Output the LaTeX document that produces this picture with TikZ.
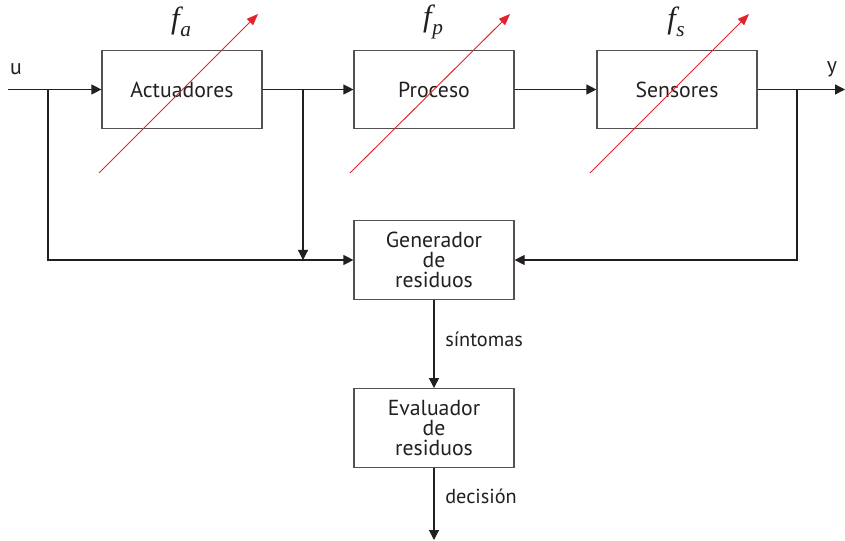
\documentclass[tikz,border=0pt]{standalone}
\usepackage{fontspec}
\setmainfont{PT Sans}
\newfontfamily\tms{Liberation Serif}
\usetikzlibrary{arrows.meta}
\definecolor{lin}{HTML}{231F20}
\definecolor{brd}{HTML}{555152}
\definecolor{fred}{HTML}{E3222B}
\newcommand{\flab}[1]{{\tms\itshape f\kern0.5pt\raisebox{-0.28em}{\fontsize{16}{16}\selectfont #1}}}
\begin{document}
\begin{tikzpicture}[x=0.75pt,y=-0.75pt,
  blk/.style={draw=brd,line width=0.9pt,minimum width=120pt,minimum height=59pt,inner sep=0pt,align=center,font=\fontsize{16.3}{15}\selectfont,text=lin},
  arr/.style={draw=lin,line width=0.9pt,-{Triangle[length=7.5pt,width=7.5pt]}},
  flt/.style={draw=fred,line width=0.7pt,-{Triangle[length=8.5pt,width=6.5pt]}},
  lbl/.style={font=\fontsize{15.2}{16}\selectfont,text=lin,inner sep=0pt},
  flbl/.style={font=\fontsize{23}{24}\selectfont,text=lin,inner sep=0pt}]
\useasboundingbox (0,0) rectangle (845,541);
% blocks
\node[blk] (act) at (182,89.5) {Actuadores};
\node[blk] (proc) at (434,89.5) {Proceso};
\node[blk] (sens) at (677,89.5) {Sensores};
\node[blk] (gen) at (434,260) {Generador\\de\\residuos};
\node[blk] (eval) at (434,428) {Evaluador\\de\\residuos};
% coordinates
\coordinate (uin) at (8,89.5);
\coordinate (yout) at (845,89.5);
\coordinate (j1) at (48,89.5);
\coordinate (j2) at (303,89.5);
\coordinate (j2b) at (303,260);
\coordinate (j3) at (797,89.5);
\coordinate (dout) at (434,540);
% connectors
\draw[arr] (uin) -- (act);
\draw[arr] (act) -- (proc);
\draw[arr] (proc) -- (sens);
\draw[arr] (sens) -- (yout);
\draw[arr] (j1) |- (gen.west);
\draw[arr] (j2) -- (j2b);
\draw[arr] (j3) |- (gen.east);
\draw[arr] (gen) -- node[lbl,right=8pt,pos=0.45] {síntomas} (eval);
\draw[arr] (eval) -- node[lbl,right=8pt,pos=0.4] {decisión} (dout);
% labels
\node[font=\fontsize{16.3}{16}\selectfont,text=lin] (ulbl) at (16,69) {u};
\node[font=\fontsize{16.3}{16}\selectfont,text=lin] (ylbl) at (832,69) {y};
% fault arrows
\coordinate (fa0) at (99,173); \coordinate (fa1) at (258,14);
\coordinate (fp0) at (350,173); \coordinate (fp1) at (510,14);
\coordinate (fs0) at (590,173); \coordinate (fs1) at (749,14);
\draw[flt] (fa0) -- (fa1);
\draw[flt] (fp0) -- (fp1);
\draw[flt] (fs0) -- (fs1);
\node[flbl] (fal) at (181,22) {\flab{a}};
\node[flbl] (fpl) at (433,22) {\flab{p}};
\node[flbl] (fsl) at (676,22) {\flab{s}};
\end{tikzpicture}
\end{document}
